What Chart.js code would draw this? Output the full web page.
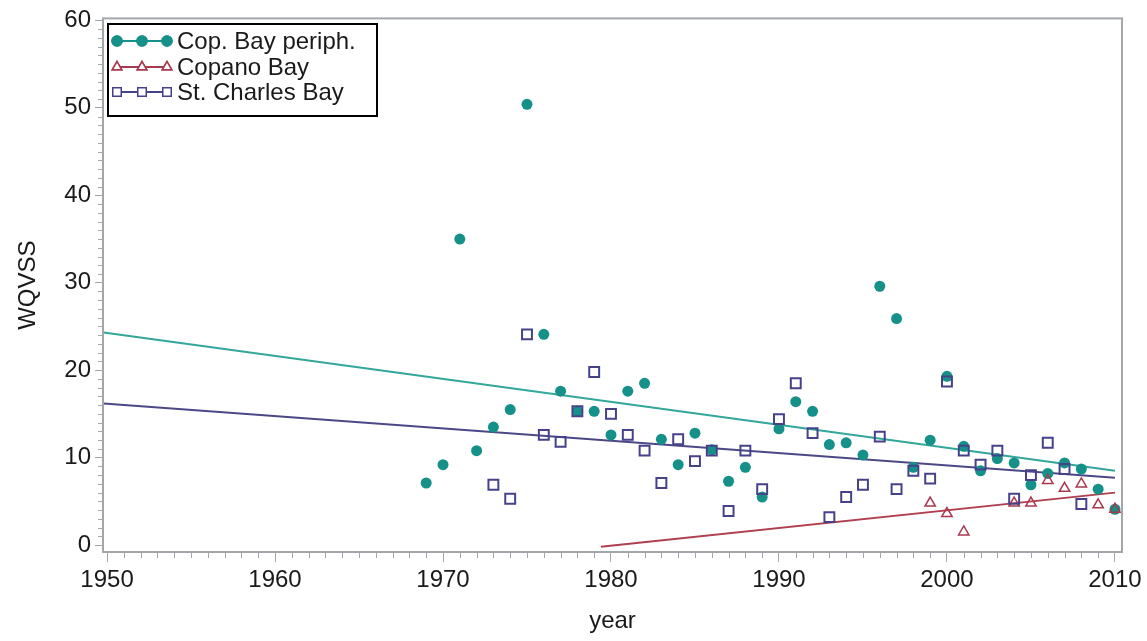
<!DOCTYPE html>
<html>
<head>
<meta charset="utf-8">
<script src="https://cdn.jsdelivr.net/npm/chart.js@4.4.1/dist/chart.umd.min.js"></script>
<style>
  body { margin: 0; background: #fff; }
  #wrap { width: 1147px; height: 641px; position: relative; }
</style>
</head>
<body>
<div id="wrap"><canvas id="grafica"></canvas></div>
<script>
// data
let years = [1969,1970,1971,1972,1973,1974,1975,1976,1977,1978,1979,1980,1981,1982,1983,1984,1985,1986,1987,1988,1989,
             1990,1991,1992,1993,1994,1995,1996,1997,1998,1999,2000,2001,2002,2003,2004,2005,2006,2007,2008,2009,2010];
let periph = [7.1,9.2,35.0,10.8,13.5,15.5,50.4,24.1,17.6,15.3,15.3,12.6,17.6,18.5,12.1,9.2,12.8,10.9,7.3,8.9,5.5,
              13.3,16.4,15.3,11.5,11.7,10.3,29.6,25.9,8.9,12.0,19.3,11.3,8.5,9.9,9.4,6.9,8.2,9.4,8.7,6.4,4.1];
let copano = [null,null,null,null,null,null,null,null,null,null,null,null,null,null,null,null,null,null,null,null,null,
              null,null,null,null,null,null,null,null,null,4.8,3.6,1.5,null,null,4.8,4.8,7.4,6.5,7.0,4.6,4.1];
let stCharles = [null,null,null,null,6.9,5.3,24.1,12.6,11.8,15.3,19.8,15.0,12.6,10.8,7.1,12.1,9.6,10.8,3.9,10.8,6.4,
                 14.4,18.5,12.8,3.2,5.5,6.9,12.4,6.4,8.5,7.6,18.7,10.8,9.2,10.8,5.3,8.0,11.7,8.7,4.7,null,null];

// fitted trend lines (start / end)
let fitYearsPeriph = [1949.8, 2010];
let fitPeriph = [24.3, 8.5];
let fitYearsStCharles = [1949.8, 2010];
let fitStCharles = [16.2, 7.7];
let fitYearsCopano = [1979.4, 2010];
let fitCopano = [-0.2, 6.0];

let xTicks = [1950,1960,1970,1980,1990,2000,2010];
let yTicks = [0,10,20,30,40,50,60];
let nombres = ['Cop. Bay periph.', 'Copano Bay', 'St. Charles Bay'];

const teal = '#16918a';
const red = '#a8394f';
const purple = '#45428a';
const fuente = "'Liberation Sans', Arial, sans-serif";
const gris = '#a3a7ab';

function puntos(xs, ys) {
  let out = [];
  for (let i = 0; i < xs.length; i++) {
    if (ys[i] !== null) out.push({x: xs[i], y: ys[i]});
  }
  return out;
}

const marco = {
  id: 'marco',
  afterDraw(chart) {
    const ctx = chart.ctx;
    const a = chart.chartArea;
    const sx = chart.scales.x, sy = chart.scales.y;
    ctx.save();
    // minor ticks
    ctx.strokeStyle = gris;
    ctx.lineWidth = 1;
    ctx.beginPath();
    for (let yr = 1950; yr <= 2010; yr++) {
      if (yr % 10 === 0) continue;
      const px = Math.round(sx.getPixelForValue(yr)) + 0.5;
      ctx.moveTo(px, a.bottom);
      ctx.lineTo(px, a.bottom + 6);
    }
    for (let v = 0; v <= 60; v++) {
      if (v % 10 === 0) continue;
      const py = Math.round(sy.getPixelForValue(v)) + 0.5;
      ctx.moveTo(a.left - 5, py);
      ctx.lineTo(a.left, py);
    }
    ctx.stroke();
    // frame
    ctx.lineWidth = 2;
    ctx.strokeRect(a.left, a.top, a.right - a.left, a.bottom - a.top);

    // legend box
    const lx = 108, ly = 24, lw = 269, lh = 92;
    ctx.fillStyle = '#fff';
    ctx.fillRect(lx, ly, lw, lh);
    ctx.strokeStyle = '#000';
    ctx.lineWidth = 2;
    ctx.strokeRect(lx, ly, lw, lh);
    const filas = [41, 67, 92];
    const estilos = [
      {c: teal, ps: 'circle', r: 5, fill: teal},
      {c: red, ps: 'triangle', r: 5.5, fill: 'rgba(0,0,0,0)'},
      {c: purple, ps: 'rect', r: 6, fill: 'rgba(0,0,0,0)'}
    ];
    ctx.font = '24px ' + fuente;
    ctx.textBaseline = 'middle';
    for (let i = 0; i < 3; i++) {
      const y = filas[i];
      const e = estilos[i];
      ctx.strokeStyle = e.c;
      ctx.lineWidth = 2;
      ctx.beginPath();
      ctx.moveTo(117, y);
      ctx.lineTo(167, y);
      ctx.stroke();
      [117, 142, 167].forEach(function (mx) {
        ctx.fillStyle = e.fill === teal ? teal : '#fff';
        ctx.strokeStyle = e.c;
        ctx.lineWidth = 1.5;
        Chart.helpers.drawPoint(ctx, {pointStyle: e.ps, radius: e.r, borderWidth: 1.5, rotation: 0}, mx, y);
        ctx.fill();
        ctx.stroke();
      });
      ctx.fillStyle = '#1a1a1a';
      ctx.fillText(nombres[i], 177, y + 1);
    }
    ctx.restore();
  }
};

const ctxG = document.getElementById('grafica').getContext('2d');
const migrafica = new Chart(ctxG, {
  type: 'scatter',
  data: {
    datasets: [
      {
        label: nombres[0],
        data: puntos(years, periph),
        pointStyle: 'circle',
        pointRadius: 5.5,
        backgroundColor: teal,
        borderColor: teal,
        borderWidth: 0,
        order: 3
      },
      {
        label: nombres[1],
        data: puntos(years, copano),
        pointStyle: 'triangle',
        pointRadius: 6,
        backgroundColor: 'rgba(255,255,255,0)',
        borderColor: red,
        borderWidth: 1.5,
        order: 2
      },
      {
        label: nombres[2],
        data: puntos(years, stCharles),
        pointStyle: 'rect',
        pointRadius: 7,
        backgroundColor: 'rgba(255,255,255,0)',
        borderColor: purple,
        borderWidth: 2,
        order: 1
      },
      {
        type: 'line',
        label: 'fit1',
        data: puntos(fitYearsPeriph, fitPeriph),
        borderColor: '#33a79b',
        borderWidth: 2,
        pointRadius: 0,
        order: 5
      },
      {
        type: 'line',
        label: 'fit2',
        data: puntos(fitYearsCopano, fitCopano),
        borderColor: '#b0404f',
        borderWidth: 2,
        pointRadius: 0,
        order: 5
      },
      {
        type: 'line',
        label: 'fit3',
        data: puntos(fitYearsStCharles, fitStCharles),
        borderColor: '#4c4886',
        borderWidth: 2,
        pointRadius: 0,
        order: 5
      }
    ]
  },
  options: {
    responsive: true,
    maintainAspectRatio: false,
    animation: false,
    layout: { padding: { top: 13, right: 25, left: 0, bottom: 0 } },
    plugins: {
      legend: { display: false },
      tooltip: { enabled: false }
    },
    scales: {
      x: {
        type: 'linear',
        min: 1949.76,
        max: 2010.42,
        afterFit: function (s) { s.height = 89; },
        afterBuildTicks: function (s) { s.ticks = xTicks.map(v => ({value: v})); },
        border: { display: false },
        grid: { drawOnChartArea: false, drawTicks: true, tickLength: 10, tickColor: gris, tickWidth: 1 },
        ticks: {
          color: '#1a1a1a',
          font: { family: fuente, size: 24 },
          padding: 4,
          maxRotation: 0,
          callback: v => String(v)
        },
        title: {
          display: true,
          text: 'year',
          color: '#1a1a1a',
          font: { family: fuente, size: 24 },
          padding: { top: 0, bottom: 5 }
        }
      },
      y: {
        type: 'linear',
        min: -0.79,
        max: 60.23,
        afterFit: function (s) { s.width = 103; },
        afterBuildTicks: function (s) { s.ticks = yTicks.map(v => ({value: v})); },
        border: { display: false },
        grid: { drawOnChartArea: false, drawTicks: true, tickLength: 8, tickColor: gris, tickWidth: 1 },
        ticks: {
          color: '#1a1a1a',
          font: { family: fuente, size: 24 },
          padding: 4
        },
        title: {
          display: true,
          text: 'WQVSS',
          color: '#1a1a1a',
          font: { family: fuente, size: 24 },
          padding: { top: 14, bottom: 0 }
        }
      }
    }
  },
  plugins: [marco]
});
</script>
</body>
</html>
